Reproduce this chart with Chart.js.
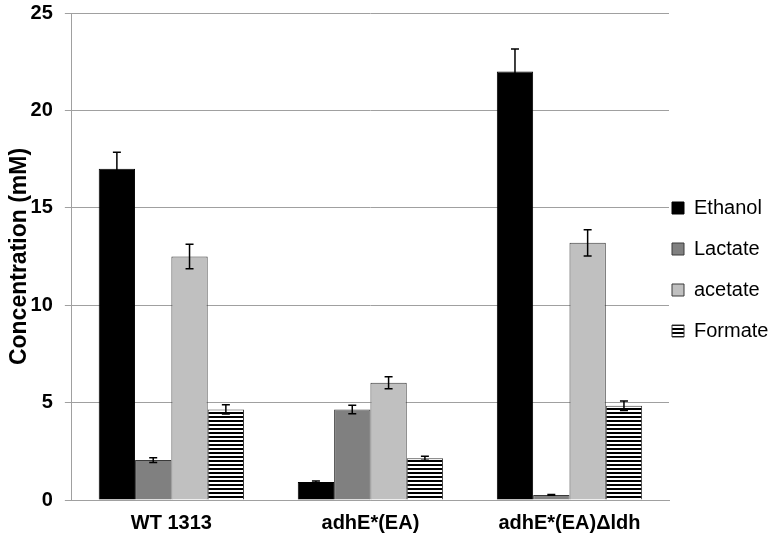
<!DOCTYPE html>
<html>
<head>
<meta charset="utf-8">
<script src="https://cdn.jsdelivr.net/npm/chart.js@4/dist/chart.umd.min.js"></script>
<style>
    html, body { margin: 0; padding: 0; background: #ffffff; overflow: hidden; }
    #wrap { width: 771px; height: 541px; }
    canvas { display: block; }
</style>
</head>
<body>
<div id="wrap"><canvas id="chart"></canvas></div>
<script>
// Categorias (cepas) e séries
const strains = ['WT 1313', 'adhE*(EA)', 'adhE*(EA)\u0394ldh'];
const seriesNames = ['Ethanol', 'Lactate', 'acetate', 'Formate'];

const ethanol = [17.0, 0.92, 22.0];
const lactate = [2.05, 4.65, 0.26];
const acetate = [12.5, 6.02, 13.2];
const formate = [4.65, 2.14, 4.84];

// Barras de erro (desvio)
const ethanolErr = [0.85, 0.05, 1.15];
const lactateErr = [0.12, 0.22, 0.02];
const acetateErr = [0.63, 0.31, 0.67];
const formateErr = [0.24, 0.1, 0.24];

const yTicks = [0, 5, 10, 15, 20, 25];

const FONT = "'Liberation Sans', Arial, sans-serif";

// Padrão de listras horizontais para Formate
function stripePattern() {
    const c = document.createElement('canvas');
    c.width = 4;
    c.height = 4;
    const g = c.getContext('2d');
    g.fillStyle = '#ffffff';
    g.fillRect(0, 0, 4, 4);
    g.fillStyle = '#000000';
    g.fillRect(0, 0, 4, 2);
    return g.createPattern(c, 'repeat');
}

// Desenha as barras de erro a partir dos valores e das escalas
const errorBars = {
    id: 'errorBars',
    afterDatasetsDraw(chart) {
        const ctx = chart.ctx;
        const y = chart.scales.y;
        ctx.save();
        ctx.strokeStyle = '#000000';
        ctx.lineWidth = 1.5;
        chart.data.datasets.forEach((ds, i) => {
            const meta = chart.getDatasetMeta(i);
            meta.data.forEach((bar, j) => {
                const v = ds.data[j];
                const e = ds.errors[j];
                const top = y.getPixelForValue(v + e);
                const bot = y.getPixelForValue(v - e);
                ctx.beginPath();
                ctx.moveTo(bar.x, top);
                ctx.lineTo(bar.x, bot);
                ctx.moveTo(bar.x - 4, top);
                ctx.lineTo(bar.x + 4, top);
                ctx.moveTo(bar.x - 4, bot);
                ctx.lineTo(bar.x + 4, bot);
                ctx.stroke();
            });
        });
        ctx.restore();
    }
};

// Aproxima a legenda da área do gráfico, como no original
const legendShift = {
    id: 'legendShift',
    afterLayout(chart) {
        const lg = chart.legend;
        const pad = lg.options.labels.padding;
        lg.left = chart.chartArea.right + 3 - pad;
        lg.right = chart.width;
        lg.width = lg.right - lg.left;
        lg.top -= 10;
        lg.bottom -= 10;
    }
};

const ctx = document.getElementById('chart');

new Chart(ctx, {
    type: 'bar',
    data: {
        labels: strains,
        datasets: [{
            label: seriesNames[0],
            data: ethanol,
            errors: ethanolErr,
            backgroundColor: '#000000',
            borderColor: '#000000',
            borderWidth: 1
        }, {
            label: seriesNames[1],
            data: lactate,
            errors: lactateErr,
            backgroundColor: '#808080',
            borderColor: '#3a3a3a',
            borderWidth: 1
        }, {
            label: seriesNames[2],
            data: acetate,
            errors: acetateErr,
            backgroundColor: '#c0c0c0',
            borderColor: '#3a3a3a',
            borderWidth: 1
        }, {
            label: seriesNames[3],
            data: formate,
            errors: formateErr,
            backgroundColor: stripePattern(),
            borderColor: '#3a3a3a',
            borderWidth: 1
        }]
    },
    options: {
        responsive: true,
        maintainAspectRatio: false,
        animation: false,
        categoryPercentage: 0.73,
        barPercentage: 1.0,
        layout: {
            padding: { top: 13, right: 0, bottom: -5, left: 0 }
        },
        plugins: {
            legend: {
                position: 'right',
                maxWidth: 102,
                labels: {
                    boxWidth: 12,
                    boxHeight: 12,
                    padding: 21,
                    color: '#000000',
                    font: { family: FONT, size: 20 }
                }
            },
            tooltip: { enabled: false }
        },
        scales: {
            x: {
                grid: { display: false, drawTicks: false },
                border: { color: '#a0a0a0', width: 1 },
                ticks: {
                    color: '#000000',
                    padding: 11,
                    font: { family: FONT, size: 20, weight: 'bold' }
                }
            },
            y: {
                min: 0,
                max: 25,
                afterBuildTicks(axis) {
                    axis.ticks = yTicks.map(v => ({ value: v }));
                },
                afterFit(axis) {
                    // o rótulo do topo cabe no padding do layout
                    axis.paddingTop = 0;
                    axis.paddingBottom = 0;
                },
                grid: {
                    color: '#a0a0a0',
                    tickLength: 7
                },
                border: { color: '#a0a0a0', width: 1 },
                ticks: {
                    color: '#000000',
                    padding: 12,
                    font: { family: FONT, size: 20, weight: 'bold' }
                },
                title: {
                    display: true,
                    text: 'Concentration (mM)',
                    color: '#000000',
                    padding: { top: 6, bottom: -15 },
                    font: { family: FONT, size: 23, weight: 'bold' }
                }
            }
        }
    },
    plugins: [errorBars, legendShift]
});
</script>
</body>
</html>
